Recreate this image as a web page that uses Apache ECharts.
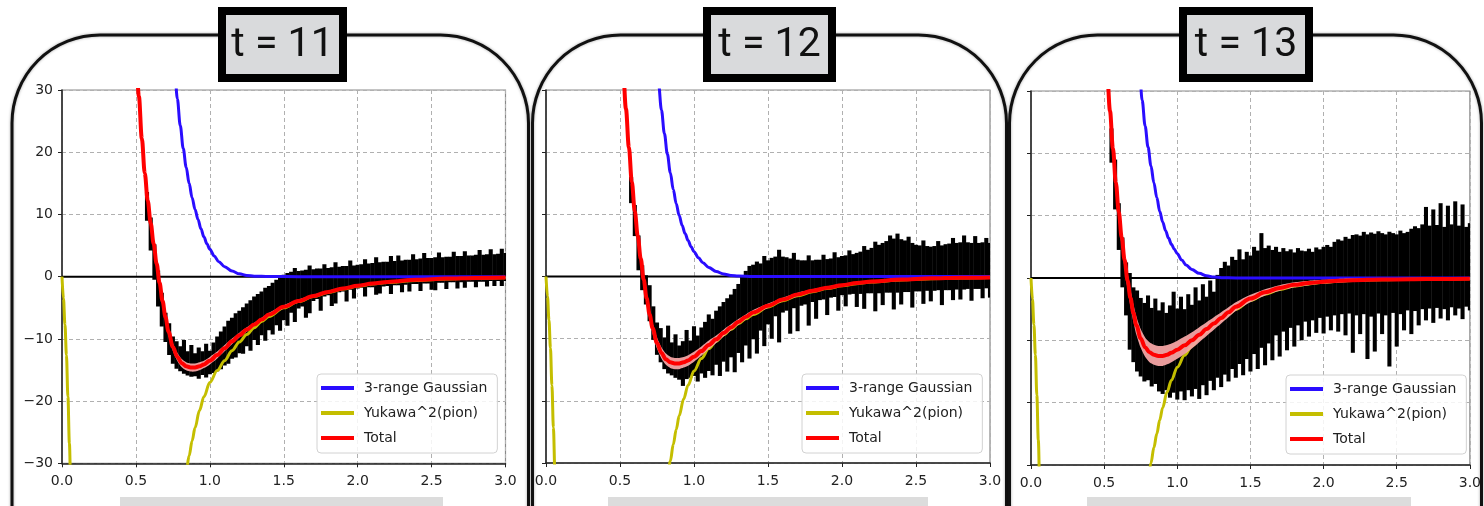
<!DOCTYPE html>
<html>
<head>
<meta charset="utf-8">
<script src="https://cdn.jsdelivr.net/npm/echarts@6/dist/echarts.min.js"></script>
<style>
  html, body { margin: 0; padding: 0; background: #ffffff; }
  #chart { width: 1484px; height: 506px; }
</style>
</head>
<body>
<div id="chart"></div>
<script>
// ---- data ---------------------------------------------------------------
const panelTitles = ['t = 11', 't = 12', 't = 13'];
const seriesNames = ['3-range Gaussian', 'Yukawa^2(pion)', 'Total'];

// sample points of the fitted total potential and its error band
const fitX = [0.48,0.50,0.52,0.54,0.56,0.58,0.60,0.62,0.64,0.66,0.68,0.70,0.72,
  0.75,0.78,0.81,0.84,0.87,0.90,0.93,0.96,
  1.00,1.05,1.10,1.15,1.20,1.25,1.30,1.35,1.40,
  1.50,1.60,1.70,1.80,1.90,2.00,2.10,2.20,
  2.40,2.60,2.80,3.00];
const total11 = [44,36,29.0,22.2,16.6,12.2,8.6,5.3,2.1,-1.0,-3.9,-6.5,-8.8,
  -11.3,-12.9,-13.9,-14.4,-14.6,-14.6,-14.4,-14.1,
  -13.5,-12.6,-11.5,-10.4,-9.4,-8.5,-7.7,-6.9,-6.1,
  -4.85,-3.9,-3.1,-2.45,-1.9,-1.45,-1.1,-0.85,
  -0.5,-0.3,-0.2,-0.15];
const total12 = [48,40,33.5,27.0,20.8,15.2,10.5,6.5,2.9,-0.5,-3.5,-6.1,-8.3,
  -10.7,-12.3,-13.3,-13.8,-14.0,-14.0,-13.8,-13.5,
  -12.9,-12.0,-11.0,-10.1,-9.1,-8.2,-7.3,-6.5,-5.8,
  -4.7,-3.7,-2.9,-2.3,-1.8,-1.4,-1.05,-0.8,
  -0.5,-0.3,-0.2,-0.15];
const total13 = [47,39.5,33,26.8,20.8,15.3,10.6,6.5,2.9,-0.4,-3.2,-5.6,-7.6,
  -9.7,-11.1,-11.9,-12.3,-12.5,-12.5,-12.3,-12.0,
  -11.5,-10.8,-10.0,-9.1,-8.2,-7.3,-6.4,-5.5,-4.6,
  -3.3,-2.3,-1.6,-1.1,-0.8,-0.6,-0.45,-0.35,
  -0.25,-0.2,-0.15,-0.12];
const err11 = [1.5,1.4,1.3,1.2,1.1,1.0,0.9,0.8,0.75,0.7,0.65,0.65,0.65,
  0.65,0.65,0.65,0.65,0.65,0.65,0.65,0.6,
  0.6,0.55,0.5,0.45,0.4,0.35,0.3,0.3,0.3,
  0.25,0.25,0.2,0.2,0.2,0.15,0.15,0.15,
  0.1,0.1,0.1,0.1];
const err12 = [1.8,1.7,1.6,1.5,1.4,1.3,1.2,1.1,1.0,0.95,0.9,0.9,0.9,
  0.9,0.9,0.9,0.9,0.9,0.9,0.85,0.85,
  0.8,0.75,0.7,0.6,0.55,0.5,0.45,0.4,0.4,
  0.35,0.3,0.3,0.25,0.25,0.2,0.2,0.2,
  0.15,0.15,0.1,0.1];
const err13 = [2.5,2.3,2.1,1.9,1.8,1.7,1.6,1.5,1.45,1.4,1.4,1.4,1.45,
  1.5,1.55,1.6,1.6,1.6,1.6,1.55,1.5,
  1.45,1.4,1.3,1.2,1.1,1.0,0.9,0.8,0.7,
  0.6,0.5,0.45,0.4,0.35,0.3,0.3,0.25,
  0.2,0.2,0.15,0.15];

// short-range part: 3-range Gaussian
const gaussX = [0.70,0.72,0.74,0.76,0.78,0.80,0.82,0.84,0.86,0.88,0.90,0.92,0.94,0.96,0.98,
  1.00,1.03,1.06,1.10,1.15,1.20,1.25,1.30,1.40,1.60,2.00,2.50,3.00];
const gauss11 = [62,51,42,34.5,28.6,24.3,20.6,17.6,15.0,12.7,10.8,9.2,7.7,6.4,5.3,
  4.4,3.3,2.4,1.6,0.9,0.45,0.2,0.08,0.01,0,0,0,0];
const gauss12 = [55,45.5,37.6,31.1,26.8,23.0,19.7,16.7,14.0,11.7,9.8,8.2,6.9,5.8,4.8,
  4.0,3.0,2.2,1.45,0.8,0.4,0.18,0.08,0.01,0,0,0,0];
const gauss13 = [50,41.5,34.0,28.5,24.4,21.0,18.0,15.3,12.9,10.7,9.0,7.6,6.4,5.4,4.6,
  3.9,2.9,2.1,1.35,0.75,0.35,0.15,0.06,0.01,0,0,0,0];

// long-range part: squared Yukawa (pion); null marks the stretch far below the axis range
const yukX = [0,0.01,0.02,0.03,0.04,0.05,0.06,0.07,0.40,
  0.78,0.80,0.82,0.84,0.86,0.88,0.90,0.93,0.96,1.00,
  1.05,1.10,1.15,1.20,1.25,1.30,1.35,1.40,
  1.50,1.60,1.70,1.80,1.90,2.00,2.10,2.20,2.40,2.60,2.80,3.00];
const yuk11 = [0,-3.5,-7.7,-12.6,-19.3,-26.8,-34.5,-42,null,
  -44,-38,-34.2,-31.4,-28.8,-26.4,-24.3,-21.5,-19.3,-17.0,
  -15.1,-13.5,-11.9,-10.5,-9.3,-8.2,-7.2,-6.4,
  -5.0,-4.0,-3.2,-2.55,-2.0,-1.55,-1.2,-0.95,-0.6,-0.38,-0.25,-0.17];
const yuk12 = [0,-3.2,-7.0,-11.5,-17.5,-24.3,-31.2,-38.5,null,
  -43,-36.2,-32.6,-29.7,-27.0,-24.6,-22.4,-19.7,-17.5,-15.2,
  -13.2,-11.6,-10.4,-9.4,-8.5,-7.6,-6.8,-6.1,
  -4.9,-3.9,-3.1,-2.45,-1.95,-1.5,-1.15,-0.9,-0.55,-0.35,-0.23,-0.16];
const yuk13 = [0,-3.4,-7.5,-12.3,-18.8,-26.0,-33.5,-41,null,
  -35.5,-32.4,-29.7,-27.2,-25.0,-22.8,-20.8,-18.3,-16.4,-14.3,
  -12.4,-10.9,-9.7,-8.6,-7.6,-6.7,-5.8,-5.0,
  -3.6,-2.6,-1.85,-1.3,-0.95,-0.7,-0.52,-0.4,-0.28,-0.22,-0.17,-0.13];

// lattice data: error-bar extents [low, high] at each r
const blackX = [0.525,0.550,0.575,0.600,0.625,0.650,0.675,0.700,0.725,0.750,
  0.775,0.800,0.825,0.850,0.875,0.900,0.925,0.950,0.975,1.000,
  1.025,1.050,1.075,1.100,1.125,1.150,1.175,1.200,1.225,1.250,
  1.275,1.300,1.325,1.350,1.375,1.400,1.425,1.450,1.475,1.500,
  1.525,1.550,1.575,1.600,1.625,1.650,1.675,1.700,1.725,1.750,
  1.775,1.800,1.825,1.850,1.875,1.900,1.925,1.950,1.975,2.000,
  2.025,2.050,2.075,2.100,2.125,2.150,2.175,2.200,2.225,2.250,
  2.275,2.300,2.325,2.350,2.375,2.400,2.425,2.450,2.475,2.500,
  2.525,2.550,2.575,2.600,2.625,2.650,2.675,2.700,2.725,2.750,
  2.775,2.800,2.825,2.850,2.875,2.900,2.925,2.950,2.975,3.000];
const lo11 = [null,null,9.0,4.2,-0.5,-4.8,-8.0,-10.5,-12.6,-14.0,
  -14.8,-15.2,-15.6,-15.9,-16.1,-16.0,-16.4,-15.8,-16.2,-15.7,
  -15.5,-15.2,-14.9,-14.3,-14.0,-13.2,-13.0,-12.3,-12.4,-11.2,
  -11.9,-10.2,-11.0,-9.4,-10.3,-8.6,-9.3,-7.8,-8.7,-7.0,
  -7.9,-5.8,-7.3,-5.1,-4.8,-6.6,-5.9,-3.9,-3.6,-5.5,
  -3.2,-3.0,-4.7,-4.3,-2.5,-2.4,-4.0,-2.1,-3.5,-1.9,
  -1.8,-3.2,-1.7,-1.7,-2.9,-2.7,-1.6,-1.5,-2.8,-1.4,
  -1.4,-2.5,-1.3,-2.4,-1.2,-1.2,-2.3,-1.1,-1.1,-2.1,
  -2.2,-1.0,-1.0,-2.0,-0.9,-0.9,-1.9,-0.9,-1.8,-0.8,
  -0.8,-1.7,-0.8,-0.8,-1.6,-0.7,-1.5,-0.7,-1.5,-0.7];
const hi11 = [null,null,13.6,9.5,5.2,1.0,-2.6,-5.8,-7.5,-9.6,
  -10.4,-11.2,-10.2,-12.0,-11.0,-12.3,-11.4,-12.0,-10.8,-11.9,
  -10.6,-9.6,-8.8,-8.0,-7.1,-6.6,-5.9,-5.5,-4.9,-4.3,
  -3.8,-3.2,-2.8,-2.4,-1.8,-1.5,-1.0,-0.5,-0.1,0.3,
  0.6,0.8,1.4,0.9,1.0,1.1,1.8,1.2,1.3,1.3,
  2.0,1.4,1.5,2.3,1.6,1.7,1.7,2.6,1.8,1.9,
  2.0,2.8,2.1,2.2,3.1,2.3,2.4,2.4,3.3,2.5,
  3.4,2.6,2.7,2.7,3.6,2.8,2.9,3.8,3.0,3.0,
  3.1,3.9,3.1,3.2,3.2,4.0,3.3,3.3,4.1,3.4,
  3.4,3.5,4.3,3.5,3.6,4.4,3.6,3.7,4.5,3.8];
const lo12 = [null,null,11.8,6.5,1.0,-2.2,-4.5,-7.2,-10.2,-12.6,
  -13.8,-14.9,-15.6,-15.9,-16.3,-16.6,-17.6,-16.5,-16.3,-16.0,
  -16.9,-15.6,-16.3,-15.2,-15.9,-14.2,-16.0,-13.7,-15.3,-13.0,
  -15.4,-12.3,-13.8,-11.1,-13.2,-10.1,-12.4,-8.7,-11.2,-7.7,
  -10.0,-6.4,-10.6,-5.8,-5.5,-9.2,-5.1,-8.8,-4.7,-4.5,
  -7.9,-4.1,-6.8,-3.8,-3.7,-6.2,-3.4,-3.3,-5.5,-3.0,
  -4.8,-2.9,-2.8,-4.9,-2.8,-5.2,-2.7,-2.7,-5.6,-2.7,
  -4.6,-2.6,-2.6,-5.3,-2.6,-4.5,-2.5,-2.5,-5.0,-2.4,
  -2.4,-4.4,-2.3,-4.0,-2.3,-2.2,-4.6,-2.2,-2.2,-3.8,
  -2.1,-3.7,-2.1,-2.0,-3.9,-2.0,-2.0,-3.5,-1.9,-3.4];
const hi12 = [null,null,16.0,11.5,6.6,1.8,0.2,-1.4,-4.8,-7.4,
  -8.3,-9.8,-7.9,-10.6,-9.3,-11.1,-10.4,-8.6,-10.3,-8.0,
  -9.5,-8.2,-7.3,-6.1,-6.8,-5.5,-4.8,-4.1,-3.5,-2.9,
  -2.0,-1.2,0.2,0.9,1.7,1.9,2.4,2.1,3.3,2.6,
  3.0,3.2,4.3,3.2,3.1,2.9,3.8,2.7,2.6,2.6,
  3.4,2.6,2.7,2.7,3.5,2.8,2.9,3.9,3.1,3.3,
  3.4,4.2,3.6,3.8,4.0,4.9,4.3,4.6,5.6,5.1,
  5.4,5.7,6.6,6.1,6.9,6.0,5.8,6.4,5.4,5.1,
  5.0,5.8,4.9,4.8,4.9,5.7,5.0,5.2,5.3,6.2,
  5.4,5.5,6.6,5.5,5.4,6.5,5.4,5.5,6.2,5.4];
const lo13 = [null,18.5,11.0,4.5,-1.5,-6.0,-11.5,-13.5,-15.0,-15.8,
  -16.6,-16.4,-17.4,-17.0,-18.2,-18.6,-18.0,-19.2,-18.4,-19.5,
  -18.2,-19.6,-18.0,-19.0,-17.8,-19.4,-17.2,-18.8,-16.5,-18.0,
  -16.0,-17.5,-15.5,-16.6,-14.6,-16.0,-13.8,-15.6,-13.0,-15.0,
  -12.2,-14.6,-11.2,-14.0,-10.5,-13.2,-9.2,-12.6,-8.6,-11.6,
  -8.0,-11.0,-7.6,-10.0,-7.0,-9.4,-6.8,-8.8,-6.4,-8.9,
  -6.2,-8.4,-6.0,-8.6,-5.8,-9.2,-5.7,-12.0,-6.0,-9.0,
  -5.8,-13.0,-6.2,-11.8,-5.7,-9.0,-6.0,-14.2,-5.6,-11.0,
  -5.8,-8.4,-5.2,-9.0,-5.3,-7.6,-5.0,-6.8,-4.9,-7.2,
  -4.8,-6.5,-5.0,-6.8,-4.7,-6.0,-4.9,-6.6,-4.6,-5.2];
const hi13 = [null,24.0,19.0,12.0,6.5,2.5,0.8,-1.5,-2.0,-3.2,
  -4.0,-2.8,-4.8,-3.3,-5.2,-3.9,-5.6,-4.4,-2.2,-4.9,
  -3.0,-5.0,-2.6,-4.3,-1.5,-3.6,-1.0,-3.0,-0.4,-2.2,
  0.5,1.6,2.6,2.0,3.4,2.9,4.6,3.0,4.2,3.6,
  5.0,4.4,7.2,4.8,5.2,4.5,5.0,4.2,4.8,4.3,
  4.6,4.1,4.8,4.4,4.3,4.7,4.2,4.9,4.6,5.0,
  5.3,5.0,5.8,6.2,6.0,6.6,6.3,6.9,7.0,6.8,
  7.4,7.0,7.3,7.1,7.5,7.2,7.0,7.4,7.2,7.0,
  7.6,7.2,7.4,7.9,8.3,8.0,8.6,11.4,8.4,11.0,
  8.5,12.0,8.2,11.6,8.6,12.3,8.4,11.8,8.2,8.8];

// ---- layout ---------------------------------------------------------------
const panels = [
  { total: total11, err: err11, gauss: gauss11, yuk: yuk11, lo: lo11, hi: hi11 },
  { total: total12, err: err12, gauss: gauss12, yuk: yuk12, lo: lo12, hi: hi12 },
  { total: total13, err: err13, gauss: gauss13, yuk: yuk13, lo: lo13, hi: hi13 }
];
const layout = [
  { grid: { left: 62, top: 90, width: 443.5, height: 373.3 }, legend: { left: 317, top: 374 },
    frame: { x: 12, w: 516.5 }, box: { x: 218, w: 129 }, bar: { x: 120, w: 323 }, yLabels: true },
  { grid: { left: 546, top: 90, width: 444, height: 373 }, legend: { left: 802, top: 374 },
    frame: { x: 532.5, w: 474 }, box: { x: 703, w: 133 }, bar: { x: 608, w: 320 }, yLabels: false },
  { grid: { left: 1031, top: 91, width: 443.3, height: 374 }, legend: { left: 1286, top: 375 },
    frame: { x: 1009.5, w: 472 }, box: { x: 1179, w: 134 }, bar: { x: 1087, w: 324 }, yLabels: false }
];

const COLORS = { gauss: '#2a0dff', yuk: '#c4be00', total: '#ff0000', band: 'rgba(244,164,164,0.95)' };
const tickFont = { fontFamily: 'DejaVu Sans', fontSize: 14, color: '#222' };
const minus = v => (v < 0 ? '\u2212' + Math.abs(v) : String(v));
const pairs = (xs, ys) => xs.map((x, i) => [x, ys[i]]);

function errorBars(params, api) {
  const x = api.value(0);
  const top = api.coord([x, api.value(2)]);
  const bot = api.coord([x, api.value(1)]);
  const w = api.size([0.025, 0])[0] + 0.4;
  return {
    type: 'rect',
    shape: { x: top[0] - w / 2, y: top[1], width: w, height: Math.max(1, bot[1] - top[1]) },
    style: { fill: '#000' }
  };
}

function bandRenderer(xs, ys, es) {
  return function (params, api) {
    const up = xs.map((x, i) => api.coord([x, ys[i] + es[i]]));
    const dn = xs.map((x, i) => api.coord([x, ys[i] - es[i]])).reverse();
    const cs = params.coordSys;
    return {
      type: 'polygon',
      shape: { points: up.concat(dn), smooth: 0.25 },
      style: { fill: COLORS.band },
      clipPath: { type: 'rect', shape: { x: cs.x, y: cs.y, width: cs.width, height: cs.height } }
    };
  };
}

const grids = [], xAxes = [], yAxes = [], legends = [], series = [], graphics = [];

layout.forEach((L, p) => {
  const P = panels[p];
  grids.push(Object.assign({ show: true, borderColor: '#8a8a8a', borderWidth: 1.2, containLabel: false }, L.grid));

  xAxes.push({
    gridIndex: p, type: 'value', min: 0, max: 3, interval: 0.5,
    axisLine: { show: true, onZero: false, lineStyle: { color: '#222', width: 1.5 } },
    axisTick: { show: true, length: 4, lineStyle: { color: '#222' } },
    axisLabel: Object.assign({ margin: 11, formatter: v => v.toFixed(1) }, tickFont),
    splitLine: { show: true, lineStyle: { color: '#b0b0b0', width: 1, type: [4, 3] } }
  });
  yAxes.push({
    gridIndex: p, type: 'value', min: -30, max: 30, interval: 10,
    axisLine: { show: true, onZero: false, lineStyle: { color: '#222', width: 1.5 } },
    axisTick: { show: true, length: 4, lineStyle: { color: '#222' } },
    axisLabel: Object.assign({ show: L.yLabels, margin: 9, formatter: minus }, tickFont),
    splitLine: { show: true, lineStyle: { color: '#b0b0b0', width: 1, type: [4, 3] } }
  });

  legends.push({
    left: L.legend.left, top: L.legend.top, orient: 'vertical',
    data: seriesNames, icon: 'rect', itemWidth: 33, itemHeight: 4, itemGap: 11,
    selectedMode: false,
    backgroundColor: 'rgba(255,255,255,0.85)', borderColor: '#d2d2d2', borderWidth: 1, borderRadius: 4,
    padding: [7, 10, 8, 4],
    textStyle: { fontFamily: 'DejaVu Sans', fontSize: 14, lineHeight: 14, color: '#222', padding: [0, 0, 0, 5] }
  });

  const axes = { xAxisIndex: p, yAxisIndex: p };
  series.push(Object.assign({
    type: 'line', name: 'zero', data: [[0, 0], [3, 0]], showSymbol: false, silent: true,
    lineStyle: { color: '#000', width: 2 }, z: 2
  }, axes));
  series.push(Object.assign({
    type: 'custom', name: 'lattice', renderItem: errorBars, clip: true, silent: true,
    encode: { x: 0, y: [1, 2] },
    data: blackX.map((x, i) => [x, P.lo[i], P.hi[i]]).filter(d => d[1] !== null), z: 3
  }, axes));
  series.push(Object.assign({
    type: 'line', name: seriesNames[0], data: pairs(gaussX, P.gauss), showSymbol: false, smooth: 0.35,
    smoothMonotone: 'x', color: COLORS.gauss, lineStyle: { color: COLORS.gauss, width: 3 }, z: 4
  }, axes));
  series.push(Object.assign({
    type: 'line', name: seriesNames[1], data: pairs(yukX, P.yuk), showSymbol: false, smooth: 0.35,
    smoothMonotone: 'x', connectNulls: false, color: COLORS.yuk, lineStyle: { color: COLORS.yuk, width: 3 }, z: 4
  }, axes));
  series.push(Object.assign({
    type: 'custom', name: 'band', renderItem: bandRenderer(fitX, P.total, P.err), clip: true, silent: true,
    data: [[fitX[0], P.total[0]]], z: 5
  }, axes));
  series.push(Object.assign({
    type: 'line', name: seriesNames[2], data: pairs(fitX, P.total), showSymbol: false, smooth: 0.35,
    smoothMonotone: 'x', color: COLORS.total, lineStyle: { color: COLORS.total, width: 4 }, z: 6
  }, axes));

  // rounded panel frame
  graphics.push({
    type: 'rect', z: 1, silent: true,
    shape: { x: L.frame.x, y: 35, width: L.frame.w, height: 620, r: 88 },
    style: { fill: 'none', stroke: '#111', lineWidth: 3, shadowBlur: 3, shadowColor: 'rgba(0,0,0,0.35)' }
  });
  // title plate
  graphics.push({
    type: 'rect', z: 10, silent: true,
    shape: { x: L.box.x + 4, y: 11, width: L.box.w - 8, height: 67 },
    style: { fill: '#d9dadc', stroke: '#000', lineWidth: 8 }
  });
  graphics.push({
    type: 'text', z: 11, silent: true,
    x: L.box.x + L.box.w / 2, y: 46,
    style: {
      text: panelTitles[p], font: '400 41px Roboto', fill: '#111',
      align: 'center', verticalAlign: 'middle', textAlign: 'center', textVerticalAlign: 'middle'
    }
  });
  // grey strip along the bottom edge
  graphics.push({
    type: 'rect', z: 1, silent: true,
    shape: { x: L.bar.x, y: 497, width: L.bar.w, height: 12 },
    style: { fill: '#dcdcdc' }
  });
});

const chart = echarts.init(document.getElementById('chart'), null, { renderer: 'canvas' });
chart.setOption({
  animation: false,
  backgroundColor: '#ffffff',
  grid: grids,
  xAxis: xAxes,
  yAxis: yAxes,
  legend: legends,
  graphic: graphics,
  series: series
});
</script>
</body>
</html>
